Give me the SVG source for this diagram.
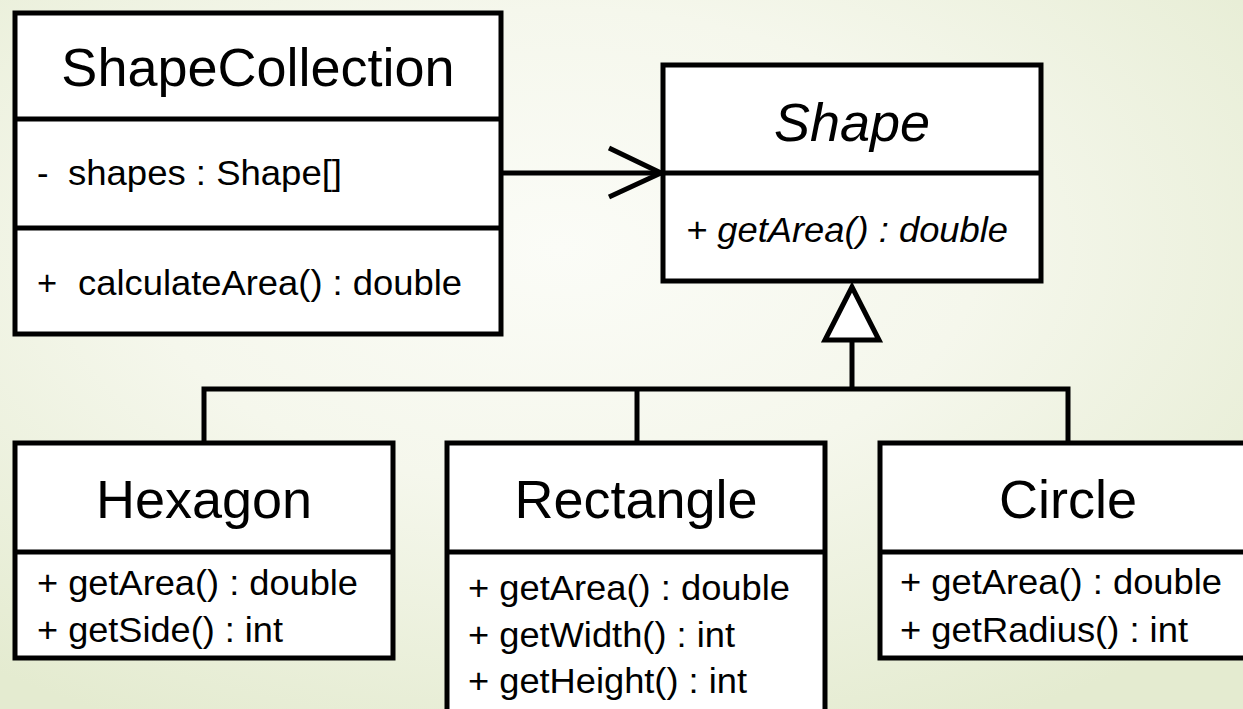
<svg xmlns="http://www.w3.org/2000/svg" width="1243" height="709" viewBox="0 0 1243 709">
  <defs>
    <radialGradient id="bg" cx="45%" cy="35%" r="75%">
      <stop offset="0" stop-color="#fbfcf7"/>
      <stop offset="0.45" stop-color="#f5f7ec"/>
      <stop offset="1" stop-color="#e4ebd0"/>
    </radialGradient>
    <style>
      .box { fill: #ffffff; stroke: #000000; stroke-width: 5; }
      .div { stroke: #000000; stroke-width: 5; fill: none; }
      .con { stroke: #000000; stroke-width: 5; fill: none; stroke-linejoin: miter; }
      .tri { stroke: #000000; stroke-width: 5; fill: #ffffff; stroke-linejoin: miter; }
      .title { font-family: "Liberation Sans", Arial, sans-serif; font-size: 54px; fill: #000000; text-anchor: middle; }
      .mem { font-family: "Liberation Sans", Arial, sans-serif; font-size: 34.5px; fill: #000000; }
      .it { font-style: italic; }
    </style>
  </defs>
  <rect x="0" y="0" width="1243" height="709" fill="url(#bg)"/>

  <g id="connectors">
    <line class="con" x1="501" y1="173" x2="661" y2="173"/>
    <polyline class="con" points="609,148 661,173 609,197"/>
    <polyline class="con" points="204,443 204,389 1068,389 1068,443"/>
    <line class="con" x1="637" y1="389" x2="637" y2="443"/>
    <line class="con" x1="852" y1="389" x2="852" y2="340"/>
    <polygon class="tri" points="852,287 825,340 879,340"/>
  </g>

  <g id="ShapeCollection">
    <rect class="box" x="15" y="13" width="486" height="321"/>
    <line class="div" x1="15" y1="119" x2="501" y2="119"/>
    <line class="div" x1="15" y1="228" x2="501" y2="228"/>
    <text class="title" x="258" y="86">ShapeCollection</text>
    <text class="mem" x="37" y="185">-</text>
    <text class="mem" x="68" y="185" textLength="274" lengthAdjust="spacingAndGlyphs">shapes : Shape[]</text>
    <text class="mem" x="37" y="295">+</text>
    <text class="mem" x="78" y="295" textLength="384" lengthAdjust="spacingAndGlyphs">calculateArea() : double</text>
  </g>

  <g id="Shape">
    <rect class="box" x="663" y="65" width="378" height="216"/>
    <line class="div" x1="663" y1="173" x2="1041" y2="173"/>
    <text class="title it" x="852" y="141">Shape</text>
    <text class="mem it" x="686" y="242" textLength="322" lengthAdjust="spacingAndGlyphs">+ getArea() : double</text>
  </g>

  <g id="Hexagon">
    <rect class="box" x="15" y="443" width="378" height="215"/>
    <line class="div" x1="15" y1="552" x2="393" y2="552"/>
    <text class="title" x="204" y="518">Hexagon</text>
    <text class="mem" x="37" y="595" textLength="321" lengthAdjust="spacingAndGlyphs">+ getArea() : double</text>
    <text class="mem" x="37" y="642" textLength="246" lengthAdjust="spacingAndGlyphs">+ getSide() : int</text>
  </g>

  <g id="Rectangle">
    <rect class="box" x="447" y="443" width="378" height="290"/>
    <line class="div" x1="447" y1="552" x2="825" y2="552"/>
    <text class="title" x="636" y="518">Rectangle</text>
    <text class="mem" x="468" y="600" textLength="322" lengthAdjust="spacingAndGlyphs">+ getArea() : double</text>
    <text class="mem" x="468" y="647" textLength="267" lengthAdjust="spacingAndGlyphs">+ getWidth() : int</text>
    <text class="mem" x="468" y="693" textLength="279" lengthAdjust="spacingAndGlyphs">+ getHeight() : int</text>
  </g>

  <g id="Circle">
    <rect class="box" x="880" y="443" width="376" height="215"/>
    <line class="div" x1="880" y1="552" x2="1256" y2="552"/>
    <text class="title" x="1068" y="518">Circle</text>
    <text class="mem" x="900" y="594" textLength="322" lengthAdjust="spacingAndGlyphs">+ getArea() : double</text>
    <text class="mem" x="900" y="642" textLength="288" lengthAdjust="spacingAndGlyphs">+ getRadius() : int</text>
  </g>
</svg>
